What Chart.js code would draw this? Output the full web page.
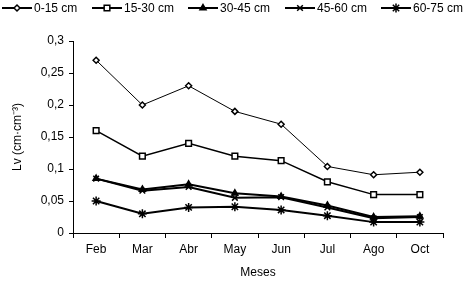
<!DOCTYPE html>
<html>
<head>
<meta charset="utf-8">
<script src="https://cdn.jsdelivr.net/npm/chart.js@4.4.0/dist/chart.umd.min.js"></script>
<style>
  html, body { margin: 0; padding: 0; background: #fff; }
  #wrap { width: 469px; height: 284px; position: relative; }
</style>
</head>
<body>
<div id="wrap"><canvas id="myChart" width="469" height="284"></canvas></div>
<script>
const meses = ["Feb", "Mar", "Abr", "May", "Jun", "Jul", "Ago", "Oct"];
const capas = ["0-15 cm", "15-30 cm", "30-45 cm", "45-60 cm", "60-75 cm"];
const lv0015 = [0.27, 0.20, 0.23, 0.19, 0.17, 0.104, 0.091, 0.095];
const lv1530 = [0.16, 0.12, 0.14, 0.12, 0.113, 0.08, 0.06, 0.06];
const lv3045 = [0.085, 0.068, 0.076, 0.062, 0.057, 0.043, 0.025, 0.026];
const lv4560 = [0.085, 0.066, 0.072, 0.055, 0.056, 0.040, 0.023, 0.025];
const lv6075 = [0.05, 0.03, 0.04, 0.041, 0.036, 0.027, 0.017, 0.017];

const marcas = ["rectRot", "rect", "triangle", "crossRot", "star"];
const rellenos = ["#fff", "#fff", "#000", "#000", "#000"];
const radios = [3, 4, 3.5, 4, 4.5];
const grosor = [1, 1.5, 2, 2, 2];
const series = [lv0015, lv1530, lv3045, lv4560, lv6075];

// leyenda dibujada a mano: linea + marca + texto
const leyenda = {
  id: "leyenda",
  afterDraw(chart) {
    const ctx = chart.ctx;
    const xs = [2, 92, 188, 285, 381];
    const y = 8;
    ctx.save();
    ctx.font = "12px 'Liberation Sans', Arial, sans-serif";
    ctx.textBaseline = "middle";
    chart.data.datasets.forEach((ds, i) => {
      const x = xs[i];
      ctx.strokeStyle = "#000";
      ctx.lineWidth = 2;
      ctx.beginPath();
      ctx.moveTo(x, y);
      ctx.lineTo(x + 30, y);
      ctx.stroke();
      ctx.fillStyle = ds.pointBackgroundColor;
      ctx.strokeStyle = "#000";
      ctx.lineWidth = ds.pointBorderWidth;
      Chart.helpers.drawPoint(ctx, {
        pointStyle: ds.pointStyle,
        radius: ds.pointRadius,
        borderWidth: ds.pointBorderWidth
      }, x + 15, y);
      ctx.fillStyle = "#000";
      ctx.fillText(ds.label, x + 32, y + 1);
    });
    ctx.restore();
  }
};

new Chart(document.getElementById("myChart"), {
  type: "line",
  data: {
    labels: meses,
    datasets: capas.map((c, i) => ({
      label: c,
      data: series[i],
      borderColor: "#000",
      borderWidth: grosor[i],
      pointStyle: marcas[i],
      pointRadius: radios[i],
      pointBorderWidth: 1.5,
      pointBorderColor: "#000",
      pointBackgroundColor: rellenos[i],
      tension: 0,
      fill: false
    }))
  },
  options: {
    responsive: false,
    animation: false,
    layout: { padding: { top: 41, left: 0, right: 26, bottom: 0 } },
    plugins: {
      legend: { display: false },
      tooltip: { enabled: false }
    },
    scales: {
      x: {
        offset: true,
        grid: { offset: true, drawOnChartArea: false, drawTicks: true, tickLength: 5, color: "#000" },
        border: { color: "#000", width: 1 },
        ticks: { color: "#000", font: { size: 12, family: "'Liberation Sans', Arial" }, padding: 4 },
        title: { display: true, text: "Meses", color: "#000", font: { size: 12, family: "'Liberation Sans', Arial" }, padding: { top: 2 } },
        afterFit(s) { s.height = 51; }
      },
      y: {
        min: 0,
        max: 0.3,
        ticks: {
          stepSize: 0.05,
          color: "#000",
          font: { size: 12, family: "'Liberation Sans', Arial" },
          padding: 5,
          callback: v => String(Math.round(v * 100) / 100).replace(".", ",")
        },
        grid: { drawOnChartArea: false, drawTicks: true, tickLength: 4, color: "#000" },
        border: { color: "#000", width: 1 },
        title: { display: true, text: "Lv (cm·cm⁻³)", color: "#000", font: { size: 12, family: "'Liberation Sans', Arial" }, padding: { top: 10, bottom: 0 } },
        afterFit(s) { s.width = 73; }
      }
    }
  },
  plugins: [leyenda]
});
</script>
</body>
</html>
